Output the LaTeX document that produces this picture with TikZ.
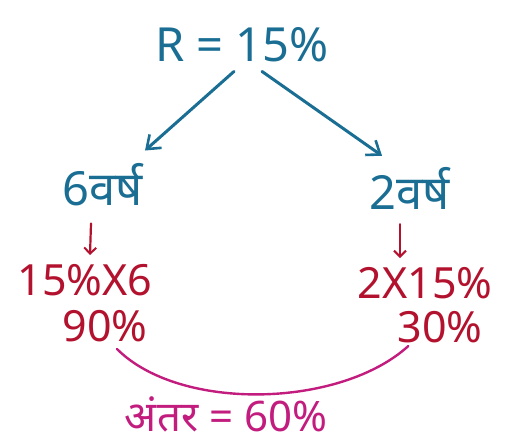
\documentclass[tikz,border=0pt]{standalone}
\usepackage{fontspec}
\setmainfont{Noto Sans}
\newfontfamily\devfont[Script=Devanagari]{Noto Sans}
\usetikzlibrary{arrows.meta,positioning,calc}
\definecolor{ink}{HTML}{1B6E93}
\definecolor{redink}{HTML}{B3122E}
\definecolor{pinkink}{HTML}{C21C7E}
\tikzset{
 hand/.style={inner sep=1pt,font=\fontsize{47}{49}\selectfont\devfont},
 tealtxt/.style={hand,text=ink},
 redtxt/.style={hand,text=redink,font=\fontsize{43}{45}\selectfont\devfont},
 pinktxt/.style={hand,text=pinkink,font=\fontsize{42}{44}\selectfont\devfont},
 bigarrow/.style={ink,line width=3pt,line cap=round,-{Straight Barb[length=12pt,width=18pt,line width=2.6pt]}},
 smallarrow/.style={redink,line width=2.2pt,line cap=round,-{Straight Barb[length=6pt,width=12pt,line width=2pt]}}
}
\begin{document}
\begin{tikzpicture}[x=1pt,y=-1pt]
\useasboundingbox (0,0) rectangle (518,447);
% top
\node[tealtxt] (rate) at (242,45) {R = 15\%};
% years
\node[tealtxt] (yleft) at (103,185) {6वर्ष};
\node[tealtxt] (yright) at (410,188) {2वर्ष};
\draw[bigarrow] ($(rate.south)+(-8,8)$) -- ($(yleft.north)+(42,-12)$);
\draw[bigarrow] ($(rate.south)+(20,8)$) -- ($(yright.north)+(-28,-10)$);
% calculations
\node[redtxt] (cleft) at (85,280) {15\%X6};
\node[redtxt] (pleft) at (105,326) {90\%};
\node[redtxt] (cright) at (425,283) {2X15\%};
\node[redtxt] (pright) at (440,327) {30\%};
\draw[smallarrow] ($(yleft.south)+(-12,16)$) -- ($(cleft.north)+(5,-8)$);
\draw[smallarrow] ($(yright.south)+(-10,14)$) -- ($(cright.north)+(-25,-8)$);
% difference
\coordinate (arcl) at ($(pleft.south)+(12,6)$);
\coordinate (arcr) at ($(pright.south west)+(12,2)$);
\draw[pinkink,line width=2.4pt,line cap=round] (arcl) .. controls (180,412) and (340,408) .. (arcr);
\node[pinktxt] (diff) at (226,414) {अंतर = 60\%};
\end{tikzpicture}
\end{document}
